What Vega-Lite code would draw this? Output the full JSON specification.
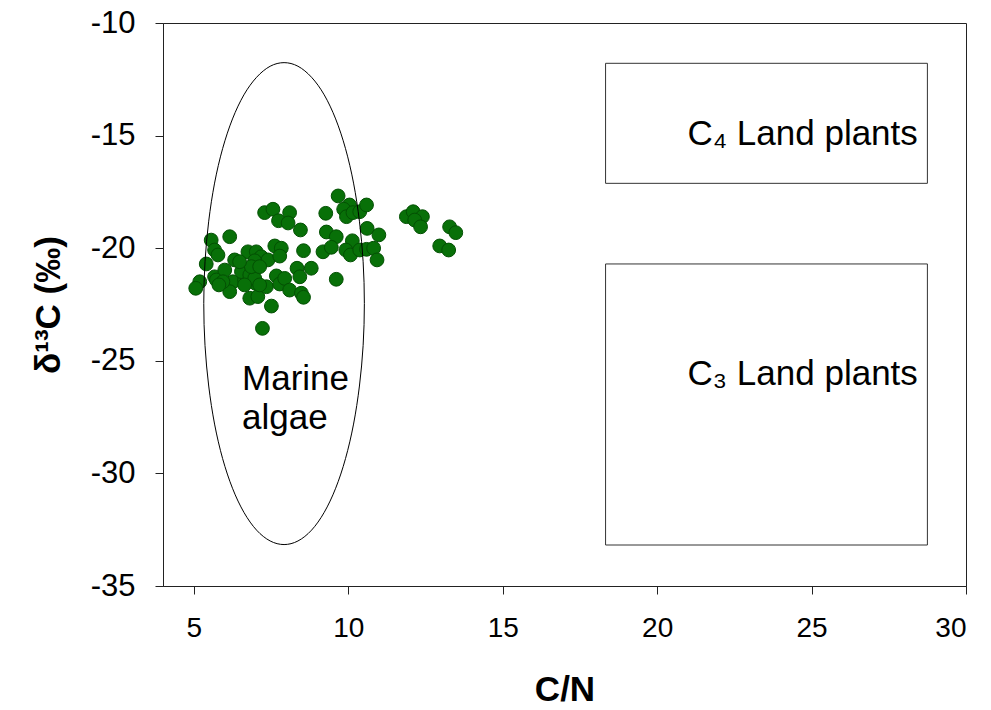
{
  "$schema": "https://vega.github.io/schema/vega-lite/v6.json",
  "width": 803,
  "height": 563,
  "autosize": {"type": "none"},
  "padding": {"left": 163, "top": 23, "right": 25, "bottom": 124},
  "background": "white",
  "datasets": {
    "samples": [
      {"cn": 7.29, "d13c": -18.42}, {"cn": 7.56, "d13c": -18.27}, {"cn": 8.10, "d13c": -18.42},
      {"cn": 7.74, "d13c": -18.78}, {"cn": 8.05, "d13c": -18.88}, {"cn": 8.45, "d13c": -19.19},
      {"cn": 9.27, "d13c": -18.45}, {"cn": 9.67, "d13c": -17.68}, {"cn": 9.29, "d13c": -19.28},
      {"cn": 9.61, "d13c": -19.49}, {"cn": 9.18, "d13c": -20.16}, {"cn": 6.16, "d13c": -19.49},
      {"cn": 5.56, "d13c": -19.64}, {"cn": 5.67, "d13c": -20.08}, {"cn": 5.78, "d13c": -20.30},
      {"cn": 5.40, "d13c": -20.70}, {"cn": 5.19, "d13c": -21.49}, {"cn": 5.06, "d13c": -21.78},
      {"cn": 5.67, "d13c": -21.27}, {"cn": 5.73, "d13c": -21.41}, {"cn": 6.00, "d13c": -20.97},
      {"cn": 6.32, "d13c": -20.52}, {"cn": 6.75, "d13c": -20.16}, {"cn": 7.02, "d13c": -20.16},
      {"cn": 7.18, "d13c": -20.38}, {"cn": 6.97, "d13c": -20.56}, {"cn": 7.40, "d13c": -20.52},
      {"cn": 7.62, "d13c": -19.90}, {"cn": 7.83, "d13c": -20.00}, {"cn": 7.78, "d13c": -20.35},
      {"cn": 6.26, "d13c": -21.49}, {"cn": 6.16, "d13c": -21.93}, {"cn": 6.64, "d13c": -21.41},
      {"cn": 7.00, "d13c": -21.56}, {"cn": 6.81, "d13c": -22.22}, {"cn": 7.07, "d13c": -22.15},
      {"cn": 7.35, "d13c": -21.71}, {"cn": 7.67, "d13c": -21.23}, {"cn": 7.78, "d13c": -21.59},
      {"cn": 7.94, "d13c": -21.34}, {"cn": 8.10, "d13c": -21.86}, {"cn": 8.48, "d13c": -22.00},
      {"cn": 8.55, "d13c": -22.18}, {"cn": 8.34, "d13c": -20.89}, {"cn": 8.55, "d13c": -20.11},
      {"cn": 8.80, "d13c": -20.89}, {"cn": 8.43, "d13c": -21.27}, {"cn": 7.51, "d13c": -22.57},
      {"cn": 7.22, "d13c": -23.56}, {"cn": 9.61, "d13c": -21.38}, {"cn": 6.54, "d13c": -21.04},
      {"cn": 6.81, "d13c": -21.19}, {"cn": 6.97, "d13c": -21.34}, {"cn": 6.64, "d13c": -21.63},
      {"cn": 7.13, "d13c": -21.63}, {"cn": 6.86, "d13c": -20.82}, {"cn": 7.13, "d13c": -20.82},
      {"cn": 5.94, "d13c": -21.49}, {"cn": 5.81, "d13c": -21.63}, {"cn": 6.48, "d13c": -20.60},
      {"cn": 10.04, "d13c": -18.08}, {"cn": 9.85, "d13c": -18.27}, {"cn": 9.94, "d13c": -18.60},
      {"cn": 10.15, "d13c": -18.42}, {"cn": 10.37, "d13c": -18.38}, {"cn": 10.59, "d13c": -18.08},
      {"cn": 10.13, "d13c": -19.67}, {"cn": 9.45, "d13c": -19.96}, {"cn": 9.92, "d13c": -20.08},
      {"cn": 10.07, "d13c": -20.30}, {"cn": 10.61, "d13c": -19.12}, {"cn": 10.99, "d13c": -19.41},
      {"cn": 10.37, "d13c": -20.08}, {"cn": 10.59, "d13c": -20.05}, {"cn": 10.82, "d13c": -20.00},
      {"cn": 10.93, "d13c": -20.52}, {"cn": 11.88, "d13c": -18.60}, {"cn": 12.10, "d13c": -18.38},
      {"cn": 12.40, "d13c": -18.60}, {"cn": 12.15, "d13c": -18.75}, {"cn": 12.34, "d13c": -19.05},
      {"cn": 13.28, "d13c": -19.05}, {"cn": 13.48, "d13c": -19.31}, {"cn": 12.96, "d13c": -19.90},
      {"cn": 13.25, "d13c": -20.08}
    ],
    "algaeOutline": [
      {"k": 0, "cn": 10.52, "d13c": -22.46}, {"k": 1, "cn": 10.48, "d13c": -20.60},
      {"k": 2, "cn": 10.36, "d13c": -18.80}, {"k": 3, "cn": 10.17, "d13c": -17.11},
      {"k": 4, "cn": 9.91, "d13c": -15.58}, {"k": 5, "cn": 9.59, "d13c": -14.26},
      {"k": 6, "cn": 9.22, "d13c": -13.19}, {"k": 7, "cn": 8.81, "d13c": -12.41},
      {"k": 8, "cn": 8.37, "d13c": -11.92}, {"k": 9, "cn": 7.92, "d13c": -11.76},
      {"k": 10, "cn": 7.47, "d13c": -11.92}, {"k": 11, "cn": 7.03, "d13c": -12.41},
      {"k": 12, "cn": 6.62, "d13c": -13.19}, {"k": 13, "cn": 6.25, "d13c": -14.26},
      {"k": 14, "cn": 5.93, "d13c": -15.58}, {"k": 15, "cn": 5.67, "d13c": -17.11},
      {"k": 16, "cn": 5.48, "d13c": -18.80}, {"k": 17, "cn": 5.36, "d13c": -20.60},
      {"k": 18, "cn": 5.32, "d13c": -22.46}, {"k": 19, "cn": 5.36, "d13c": -24.32},
      {"k": 20, "cn": 5.48, "d13c": -26.12}, {"k": 21, "cn": 5.67, "d13c": -27.81},
      {"k": 22, "cn": 5.93, "d13c": -29.34}, {"k": 23, "cn": 6.25, "d13c": -30.66},
      {"k": 24, "cn": 6.62, "d13c": -31.73}, {"k": 25, "cn": 7.03, "d13c": -32.52},
      {"k": 26, "cn": 7.47, "d13c": -33.00}, {"k": 27, "cn": 7.92, "d13c": -33.16},
      {"k": 28, "cn": 8.37, "d13c": -33.00}, {"k": 29, "cn": 8.81, "d13c": -32.52},
      {"k": 30, "cn": 9.22, "d13c": -31.73}, {"k": 31, "cn": 9.59, "d13c": -30.66},
      {"k": 32, "cn": 9.91, "d13c": -29.34}, {"k": 33, "cn": 10.17, "d13c": -27.81},
      {"k": 34, "cn": 10.36, "d13c": -26.12}, {"k": 35, "cn": 10.48, "d13c": -24.32}
    ],
    "plantBoxes": [
      {"group": "C4", "x1": 18.33, "x2": 28.75, "y1": -11.79, "y2": -17.12},
      {"group": "C3", "x1": 18.33, "x2": 28.75, "y1": -20.70, "y2": -33.18}
    ],
    "boxLabels": [
      {"label": "C₄ Land plants", "cn": 28.44, "d13c": -15.42},
      {"label": "C₃ Land plants", "cn": 28.44, "d13c": -26.07}
    ],
    "algaeLabel": [
      {"label": ["Marine", "algae"], "cn": 6.56, "d13c": -26.3}
    ]
  },
  "layer": [
    {
      "data": {"name": "plantBoxes"},
      "mark": {"type": "rect", "fill": null, "fillOpacity": 0, "stroke": "#333333", "strokeWidth": 1},
      "encoding": {
        "x": {"field": "x1", "type": "quantitative"},
        "x2": {"field": "x2"},
        "y": {"field": "y1", "type": "quantitative"},
        "y2": {"field": "y2"}
      }
    },
    {
      "data": {"name": "samples"},
      "mark": {"type": "point", "shape": "circle", "filled": true, "size": 190, "fill": "#087008", "stroke": "#035003", "strokeWidth": 1, "opacity": 1},
      "encoding": {
        "x": {
          "field": "cn", "type": "quantitative",
          "scale": {"domain": [4, 30], "nice": false, "zero": false},
          "axis": {
            "title": "C/N",
            "values": [5, 10, 15, 20, 25, 30],
            "tickSize": 8,
            "labelPadding": 20,
            "labelFont": "Liberation Sans",
            "labelFontSize": 28,
            "titleFont": "Liberation Sans",
            "titleFontSize": 35,
            "titleFontWeight": "bold",
            "titlePadding": 30
          }
        },
        "y": {
          "field": "d13c", "type": "quantitative",
          "scale": {"domain": [-35, -10], "nice": false, "zero": false},
          "axis": {
            "title": "δ¹³C (‰)",
            "values": [-35, -30, -25, -20, -15, -10],
            "labelExpr": "replace(datum.label, '−', '-')",
            "tickSize": 8,
            "labelPadding": 20,
            "labelFont": "Liberation Sans",
            "labelFontSize": 31,
            "titleFont": "Liberation Sans",
            "titleFontSize": 35,
            "titleFontWeight": "bold",
            "titlePadding": 24
          }
        }
      }
    },
    {
      "data": {"name": "algaeOutline"},
      "mark": {"type": "line", "interpolate": "cardinal-closed", "color": "black", "strokeWidth": 1},
      "encoding": {
        "x": {"field": "cn", "type": "quantitative"},
        "y": {"field": "d13c", "type": "quantitative"},
        "order": {"field": "k", "type": "quantitative"}
      }
    },
    {
      "data": {"name": "boxLabels"},
      "mark": {"type": "text", "align": "right", "baseline": "alphabetic", "font": "Liberation Sans", "fontSize": 35, "color": "black"},
      "encoding": {
        "x": {"field": "cn", "type": "quantitative"},
        "y": {"field": "d13c", "type": "quantitative"},
        "text": {"field": "label"}
      }
    },
    {
      "data": {"name": "algaeLabel"},
      "mark": {"type": "text", "align": "left", "baseline": "alphabetic", "font": "Liberation Sans", "fontSize": 35, "lineHeight": 39, "color": "black"},
      "encoding": {
        "x": {"field": "cn", "type": "quantitative"},
        "y": {"field": "d13c", "type": "quantitative"},
        "text": {"field": "label"}
      }
    }
  ],
  "config": {
    "view": {"stroke": "#222222", "strokeWidth": 1},
    "axis": {
      "grid": false,
      "domainColor": "#222222",
      "tickColor": "#222222",
      "labelColor": "black",
      "titleColor": "black",
      "domainWidth": 1,
      "tickWidth": 1
    }
  }
}
